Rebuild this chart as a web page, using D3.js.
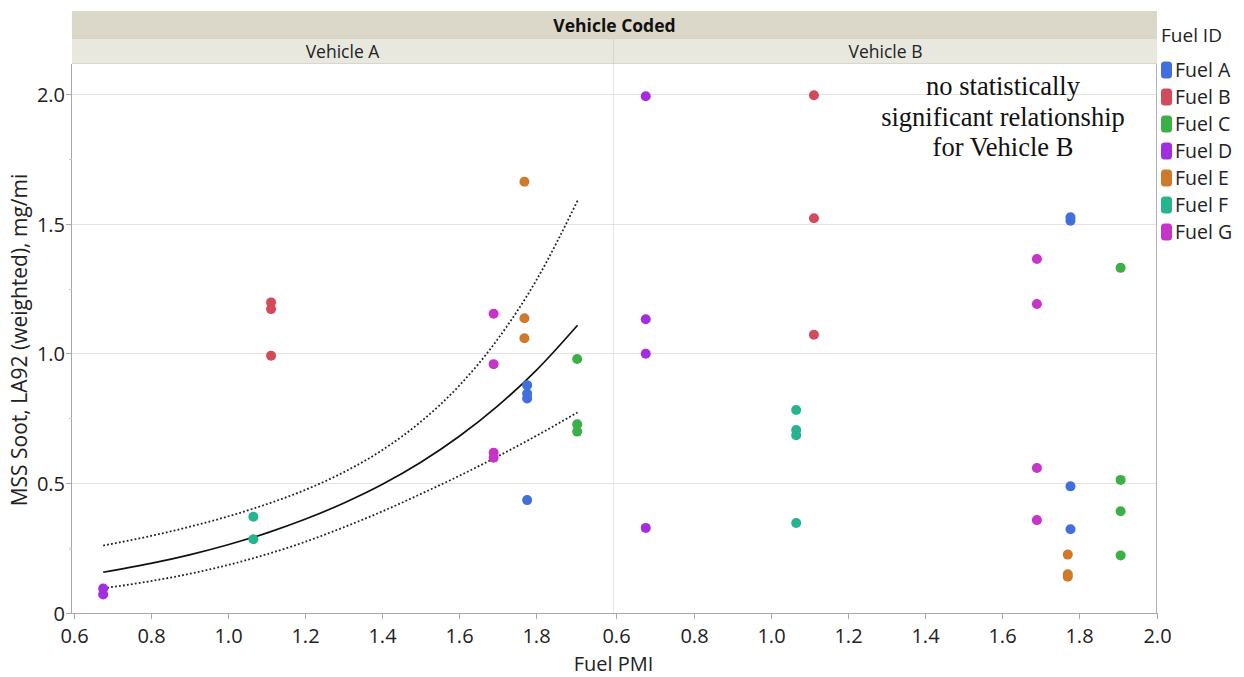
<!DOCTYPE html>
<html>
<head>
<meta charset="utf-8">
<script src="https://cdn.jsdelivr.net/npm/d3@7"></script>
<style>
  html, body { margin: 0; padding: 0; background: #fff; }
  svg { display: block; font-family: "Open Sans", "Noto Sans", sans-serif; }
</style>
</head>
<body>
<svg id="chart" width="1244" height="677"></svg>
<script>
// Fuels, their colours and their particulate matter index (PMI)
const fuels = ["Fuel A", "Fuel B", "Fuel C", "Fuel D", "Fuel E", "Fuel F", "Fuel G"];
const fuelColors = ["#4170dc", "#d34a5b", "#3caf46", "#a22ee0", "#cf7a2a", "#26b48c", "#c734c8"];
const fuelPmi = [1.777, 1.112, 1.907, 0.676, 1.770, 1.066, 1.690];

// MSS soot (mg/mi) per fuel, one entry per test
const sootVehicleA = [
  [0.878, 0.846, 0.827, 0.435],
  [1.197, 1.171, 0.991],
  [0.979, 0.727, 0.699],
  [0.094, 0.071],
  [1.662, 1.136, 1.059],
  [0.371, 0.284],
  [1.153, 0.959, 0.618, 0.598]
];
const sootVehicleB = [
  [1.525, 1.512, 0.488, 0.323],
  [1.995, 1.521, 1.072],
  [1.330, 0.513, 0.392, 0.222],
  [1.991, 1.132, 0.999, 0.328],
  [0.225, 0.149, 0.140],
  [0.782, 0.705, 0.685, 0.347],
  [1.364, 1.191, 0.559, 0.358]
];

// Fitted curve for Vehicle A with its confidence band
const fitPmi   = [0.676, 0.8, 0.9, 1.0, 1.1, 1.2, 1.3, 1.4, 1.5, 1.6, 1.7, 1.8, 1.908];
const fitSoot  = [0.157, 0.191, 0.224, 0.263, 0.308, 0.361, 0.423, 0.495, 0.580, 0.680, 0.797, 0.934, 1.109];
const fitUpper = [0.260, 0.297, 0.332, 0.372, 0.419, 0.474, 0.542, 0.627, 0.736, 0.875, 1.054, 1.280, 1.589];
const fitLower = [0.095, 0.123, 0.151, 0.185, 0.226, 0.274, 0.330, 0.391, 0.458, 0.528, 0.603, 0.682, 0.773];

// Axis ticks
const xTicksA = [0.6, 0.8, 1.0, 1.2, 1.4, 1.6, 1.8];
const xTicksB = [0.6, 0.8, 1.0, 1.2, 1.4, 1.6, 1.8, 2.0];
const yTicks = [0, 0.5, 1.0, 1.5, 2.0];
const yMinorTicks = [0.25, 0.75, 1.25, 1.75];

const panelLabels = ["Vehicle A", "Vehicle B"];
const groupTitle = "Vehicle Coded";
const xTitle = "Fuel PMI";
const yTitle = "MSS Soot, LA92 (weighted), mg/mi";
const legendTitle = "Fuel ID";
const noteLines = ["no statistically", "significant relationship", "for Vehicle B"];

const svg = d3.select("#chart");

const plotTop = 64, plotBottom = 613;
const panelsX = [[72, 613], [614.5, 1156.5]];
const xDomain = [0.595, 2.0];
const y = d3.scaleLinear().domain([0, 2.1156]).range([plotBottom, plotTop]);
const xScales = panelsX.map(r => d3.scaleLinear().domain(xDomain).range(r));

const left = 72, right = 1157, mid = 613.5;

// Header bands
svg.append("rect").attr("x", left).attr("y", 11).attr("width", right - left).attr("height", 27)
  .attr("fill", "#dbd8c9");
svg.append("rect").attr("x", left).attr("y", 38).attr("width", right - left).attr("height", 26)
  .attr("fill", "#e8e8df");
svg.append("line").attr("x1", left).attr("x2", right).attr("y1", 38.5).attr("y2", 38.5)
  .attr("stroke", "#d6d3c2");
svg.append("line").attr("x1", left).attr("x2", right).attr("y1", 63.5).attr("y2", 63.5)
  .attr("stroke", "#d9d7cb");
svg.append("line").attr("x1", mid).attr("x2", mid).attr("y1", 38).attr("y2", 64)
  .attr("stroke", "#d6d4c8");
svg.append("text").attr("x", (left + right) / 2).attr("y", 31.5).attr("text-anchor", "middle")
  .attr("font-size", 17.5).attr("font-weight", "bold").attr("fill", "#111").text(groupTitle);
panelsX.forEach((r, i) => {
  svg.append("text").attr("x", (r[0] + r[1]) / 2).attr("y", 57.5).attr("text-anchor", "middle")
    .attr("font-size", 17.5).attr("fill", "#222").text(panelLabels[i]);
});

// Horizontal grid lines
const grid = svg.append("g");
yTicks.filter(d => d > 0).forEach(d => {
  grid.append("line").attr("x1", left).attr("x2", right)
    .attr("y1", Math.round(y(d)) + 0.5).attr("y2", Math.round(y(d)) + 0.5)
    .attr("stroke", "#e3e3e3").attr("stroke-width", 1);
});

// Panel divider and frame
svg.append("line").attr("x1", mid).attr("x2", mid).attr("y1", plotTop).attr("y2", plotBottom)
  .attr("stroke", "#e6e6e6");
svg.append("line").attr("x1", right - 0.5).attr("x2", right - 0.5).attr("y1", plotTop).attr("y2", plotBottom)
  .attr("stroke", "#b4b4b4");

// Note for Vehicle B
const note = svg.append("text").attr("text-anchor", "middle")
  .attr("font-family", "'Liberation Serif', 'Times New Roman', serif")
  .attr("font-size", 26.5).attr("fill", "#111");
noteLines.forEach((t, i) => {
  note.append("tspan").attr("x", 1003).attr("y", 95 + i * 30.5).text(t);
});

// Fit curve and confidence limits (Vehicle A)
const xa = xScales[0];
const mkLine = vals => d3.line().x((d, i) => xa(fitPmi[i])).y(d => y(d)).curve(d3.curveMonotoneX)(vals);
svg.append("path").attr("d", mkLine(fitUpper)).attr("fill", "none")
  .attr("stroke", "#222").attr("stroke-width", 1.8).attr("stroke-dasharray", "1.8,2.2");
svg.append("path").attr("d", mkLine(fitLower)).attr("fill", "none")
  .attr("stroke", "#222").attr("stroke-width", 1.8).attr("stroke-dasharray", "1.8,2.2");
svg.append("path").attr("d", mkLine(fitSoot)).attr("fill", "none")
  .attr("stroke", "#111").attr("stroke-width", 1.7);

// Points
[sootVehicleA, sootVehicleB].forEach((series, p) => {
  const x = xScales[p];
  const g = svg.append("g");
  series.forEach((vals, f) => {
    g.selectAll(null).data(vals).enter().append("circle")
      .attr("cx", x(fuelPmi[f])).attr("cy", d => y(d)).attr("r", 5)
      .attr("fill", fuelColors[f]);
  });
});

// Axes
const axisColor = "#a8a8a8";
svg.append("line").attr("x1", left - 0.5).attr("x2", left - 0.5).attr("y1", plotTop).attr("y2", plotBottom + 0.5)
  .attr("stroke", axisColor);
svg.append("line").attr("x1", left).attr("x2", right).attr("y1", plotBottom + 0.5).attr("y2", plotBottom + 0.5)
  .attr("stroke", axisColor);

const yAxis = svg.append("g");
yTicks.forEach(d => {
  const yy = Math.round(y(d)) + 0.5;
  yAxis.append("line").attr("x1", left - 6).attr("x2", left).attr("y1", yy).attr("y2", yy).attr("stroke", axisColor);
  yAxis.append("text").attr("x", left - 7).attr("y", yy).attr("dy", "0.35em").attr("text-anchor", "end")
    .attr("font-size", 20).attr("fill", "#222").text(d === 0 ? "0" : d3.format(".1f")(d));
});
yMinorTicks.forEach(d => {
  const yy = Math.round(y(d)) + 0.5;
  yAxis.append("line").attr("x1", left - 3).attr("x2", left).attr("y1", yy).attr("y2", yy).attr("stroke", "#c8c8c8");
});

[xTicksA, xTicksB].forEach((ticks, p) => {
  const x = xScales[p];
  const g = svg.append("g");
  ticks.forEach(d => {
    const xx = Math.round(x(d)) + 0.5;
    g.append("line").attr("x1", xx).attr("x2", xx).attr("y1", plotBottom).attr("y2", plotBottom + 6).attr("stroke", axisColor);
    g.append("text").attr("x", xx).attr("y", 643).attr("text-anchor", "middle")
      .attr("font-size", 20).attr("fill", "#222").text(d3.format(".1f")(d));
  });
});

svg.append("text").attr("x", mid).attr("y", 671).attr("text-anchor", "middle")
  .attr("font-size", 20).attr("fill", "#222").text(xTitle);
svg.append("text").attr("transform", `translate(27,340) rotate(-90)`).attr("text-anchor", "middle")
  .attr("font-size", 21).attr("fill", "#222").text(yTitle);

// Legend
const legend = svg.append("g");
legend.append("text").attr("x", 1161).attr("y", 42).attr("font-size", 19).attr("fill", "#222").text(legendTitle);
fuels.forEach((f, i) => {
  const cy = 70 + i * 27;
  legend.append("rect").attr("x", 1161).attr("y", cy - 8.5).attr("width", 11).attr("height", 17)
    .attr("rx", 3.5).attr("fill", fuelColors[i]);
  legend.append("text").attr("x", 1175).attr("y", cy).attr("dy", "0.35em").attr("font-size", 19.5)
    .attr("fill", "#222").text(f);
});
</script>
</body>
</html>
